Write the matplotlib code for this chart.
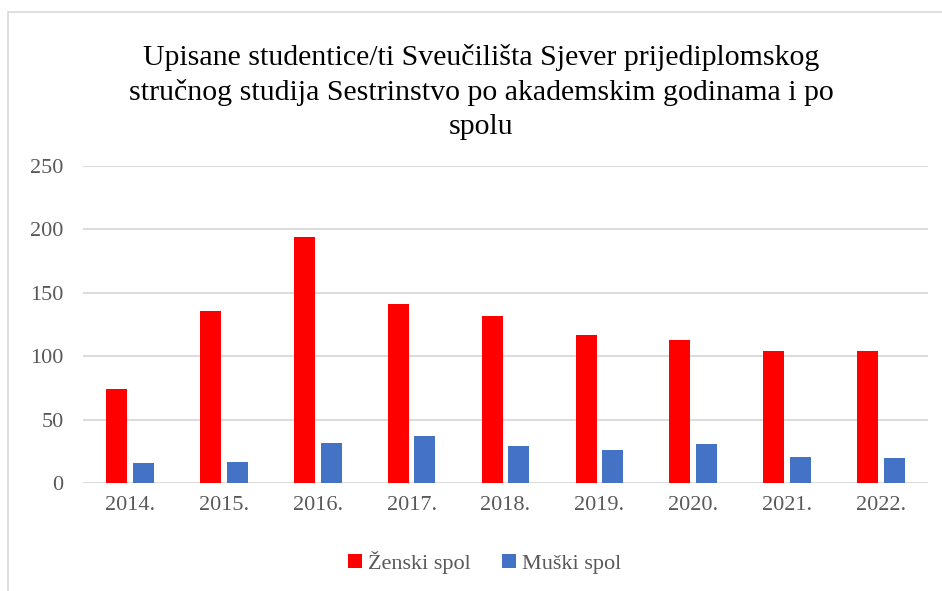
import numpy as np
import matplotlib
matplotlib.use('Agg')
import matplotlib.pyplot as plt
from matplotlib.patches import Rectangle

years = ['2014.', '2015.', '2016.', '2017.', '2018.', '2019.', '2020.', '2021.', '2022.']
zenski = [74, 136, 194, 141, 132, 117, 113, 104, 104]
muski = [16, 17, 32, 37, 29, 26, 31, 21, 20]

RED = '#ff0000'; BLUE = '#4472c4'; GREY = '#595959'

fig = plt.figure(figsize=(9.42, 5.91), dpi=100)
ax = fig.add_axes([83/942, 1-483.3/591, (928-83)/942, (483.3-166)/591])

# outer chart frame (light grey, partially visible)
fig.patches.append(Rectangle((8/942, -0.1), 1.2, (591-12)/591 + 0.1, transform=fig.transFigure,
                             fill=False, ec='#d9d9d9', lw=1.2))

x = np.arange(len(years))
w = 0.224
ax.bar(x - 0.142, zenski, w, color=RED, label='Ženski spol', zorder=3)
ax.bar(x + 0.142, muski, w, color=BLUE, label='Muški spol', zorder=3)

ax.set_xlim(-0.5, len(years) - 0.5)
ax.set_ylim(0, 250)
ax.set_yticks(range(0, 251, 50))
ax.set_xticks(x)
ax.set_xticklabels(years)
ax.yaxis.grid(True, color='#d9d9d9', lw=1.3, zorder=0)
for s in ax.spines.values():
    s.set_visible(False)
ax.tick_params(length=0, labelsize=16, labelcolor=GREY, pad=9)
ax.tick_params(axis='y', pad=14)
for lab in ax.get_xticklabels() + ax.get_yticklabels():
    lab.set_family('Liberation Serif')

fig.text(481/942, 1-92/591,
         'Upisane studentice/ti Sveučilišta Sjever prijediplomskog\n'
         'stručnog studija Sestrinstvo po akademskim godinama i po\nspolu',
         ha='center', va='center', fontsize=21.5, family='Liberation Serif',
         linespacing=1.4, color='black')

fig.legend(loc='center', bbox_to_anchor=(485/942, 1-562/591), ncol=2, frameon=False,
           prop={'family': 'Liberation Serif', 'size': 16}, labelcolor=GREY,
           handlelength=0.6, handleheight=0.6, handletextpad=0.3, columnspacing=1.4)

fig.savefig('out.png', dpi=100)
